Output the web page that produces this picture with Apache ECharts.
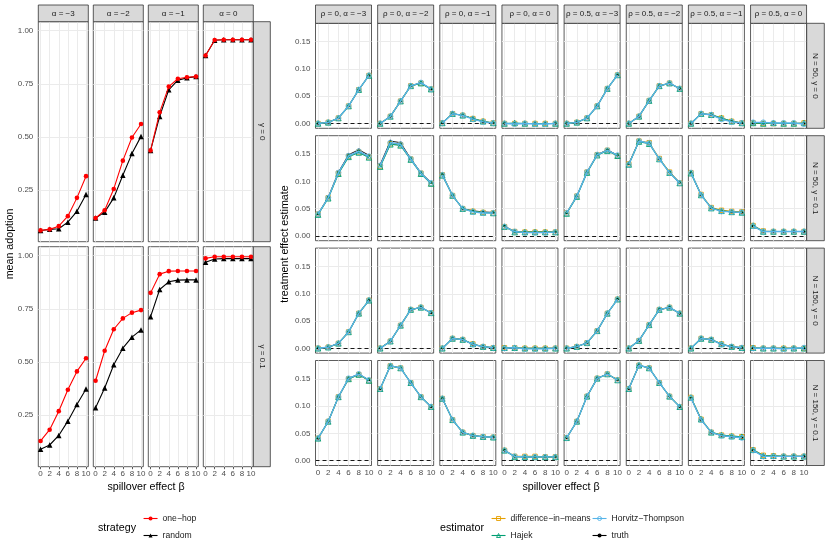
<!DOCTYPE html>
<html>
<head>
<meta charset="utf-8">
<script src="https://cdn.jsdelivr.net/npm/echarts@6/dist/echarts.min.js"></script>
<style>
html, body { margin: 0; padding: 0; background: #fff; }
#chart { width: 830px; height: 554px; }
</style>
</head>
<body>
<div id="chart"></div>
<script>
// x values shared by every panel
var betaValues = [0, 2, 4, 6, 8, 10];

// left block: mean adoption by strategy
var alphaLabels = ['α = −3', 'α = −2', 'α = −1', 'α = 0'];
var gammaLabels = ['γ = 0', 'γ = 0.1'];
var adoptionTicks = [0.25, 0.50, 0.75, 1.00];

var oneHopG0 = [
	[0.061, 0.066, 0.081, 0.128, 0.214, 0.316],
	[0.119, 0.156, 0.256, 0.389, 0.498, 0.561],
	[0.437, 0.616, 0.737, 0.774, 0.781, 0.784],
	[0.883, 0.956, 0.957, 0.957, 0.957, 0.957]
];
var randomG0 = [
	[0.061, 0.066, 0.069, 0.100, 0.151, 0.230],
	[0.119, 0.147, 0.214, 0.320, 0.422, 0.503],
	[0.437, 0.597, 0.722, 0.767, 0.778, 0.784],
	[0.883, 0.955, 0.957, 0.957, 0.957, 0.957]
];
var oneHopG01 = [
	[0.129, 0.182, 0.269, 0.370, 0.456, 0.518],
	[0.412, 0.553, 0.654, 0.705, 0.732, 0.744],
	[0.825, 0.913, 0.927, 0.928, 0.928, 0.928],
	[0.987, 0.995, 0.995, 0.995, 0.995, 0.995]
];
var randomG01 = [
	[0.090, 0.110, 0.155, 0.222, 0.300, 0.373],
	[0.285, 0.378, 0.487, 0.565, 0.617, 0.651],
	[0.713, 0.841, 0.877, 0.885, 0.886, 0.886],
	[0.969, 0.984, 0.986, 0.986, 0.986, 0.986]
];

// right block: treatment effect estimates
var designLabels = ['ρ = 0, α = −3', 'ρ = 0, α = −2', 'ρ = 0, α = −1', 'ρ = 0, α = 0',
	'ρ = 0.5, α = −3', 'ρ = 0.5, α = −2', 'ρ = 0.5, α = −1', 'ρ = 0.5, α = 0'];
var scenarioLabels = ['N = 50, γ = 0', 'N = 50, γ = 0.1', 'N = 150, γ = 0', 'N = 150, γ = 0.1'];
var effectTicks = [0.00, 0.05, 0.10, 0.15];

var truthN50G0 = [
	[0.000, 0.002, 0.010, 0.032, 0.062, 0.088],
	[0.000, 0.013, 0.041, 0.069, 0.075, 0.063],
	[0.001, 0.018, 0.015, 0.009, 0.003, 0.001],
	[0.000, 0.000, 0.000, 0.000, 0.000, 0.000],
	[0.000, 0.002, 0.010, 0.032, 0.064, 0.089],
	[0.000, 0.013, 0.042, 0.069, 0.074, 0.064],
	[0.000, 0.018, 0.016, 0.009, 0.004, 0.001],
	[0.000, 0.000, 0.000, 0.000, 0.000, 0.000]
];
var dimN50G0 = [
	[0.000, 0.002, 0.010, 0.032, 0.062, 0.088],
	[0.000, 0.013, 0.041, 0.069, 0.074, 0.063],
	[0.001, 0.018, 0.015, 0.009, 0.004, 0.001],
	[0.000, 0.000, 0.000, 0.000, 0.000, 0.000],
	[0.000, 0.002, 0.010, 0.032, 0.064, 0.089],
	[0.000, 0.013, 0.042, 0.069, 0.074, 0.064],
	[0.000, 0.018, 0.016, 0.010, 0.004, 0.001],
	[0.001, 0.000, 0.000, 0.000, 0.000, 0.001]
];
var hajekN50G0 = [
	[0.000, 0.002, 0.010, 0.032, 0.062, 0.088],
	[0.000, 0.013, 0.041, 0.069, 0.074, 0.063],
	[0.001, 0.018, 0.015, 0.009, 0.004, 0.001],
	[0.000, 0.001, 0.000, 0.000, 0.000, 0.000],
	[0.000, 0.002, 0.010, 0.032, 0.064, 0.089],
	[0.000, 0.013, 0.042, 0.069, 0.074, 0.064],
	[0.000, 0.018, 0.016, 0.010, 0.004, 0.001],
	[0.001, 0.000, 0.001, 0.000, 0.000, 0.001]
];
var htN50G0 = [
	[0.000, 0.002, 0.010, 0.032, 0.062, 0.088],
	[0.000, 0.013, 0.041, 0.069, 0.075, 0.063],
	[0.001, 0.018, 0.015, 0.008, 0.003, 0.001],
	[0.000, -0.001, 0.000, -0.001, -0.001, 0.000],
	[0.000, 0.002, 0.010, 0.032, 0.064, 0.089],
	[0.000, 0.013, 0.042, 0.069, 0.074, 0.064],
	[0.000, 0.018, 0.016, 0.008, 0.003, 0.001],
	[0.002, 0.002, 0.001, 0.001, 0.001, -0.001]
];

var truthN50G01 = [
	[0.040, 0.071, 0.117, 0.149, 0.158, 0.148],
	[0.131, 0.174, 0.171, 0.142, 0.116, 0.098],
	[0.113, 0.074, 0.050, 0.046, 0.044, 0.043],
	[0.018, 0.008, 0.007, 0.007, 0.007, 0.007],
	[0.042, 0.073, 0.117, 0.149, 0.158, 0.148],
	[0.132, 0.174, 0.170, 0.141, 0.117, 0.098],
	[0.116, 0.075, 0.051, 0.046, 0.044, 0.043],
	[0.018, 0.008, 0.008, 0.008, 0.008, 0.008]
];
var dimN50G01 = [
	[0.040, 0.070, 0.115, 0.146, 0.154, 0.145],
	[0.128, 0.169, 0.167, 0.141, 0.115, 0.096],
	[0.112, 0.074, 0.050, 0.045, 0.043, 0.042],
	[0.017, 0.008, 0.007, 0.007, 0.007, 0.007],
	[0.042, 0.073, 0.117, 0.149, 0.157, 0.147],
	[0.132, 0.174, 0.171, 0.142, 0.117, 0.097],
	[0.116, 0.076, 0.052, 0.047, 0.045, 0.044],
	[0.019, 0.009, 0.008, 0.008, 0.008, 0.008]
];
var hajekN50G01 = [
	[0.039, 0.069, 0.114, 0.145, 0.153, 0.144],
	[0.127, 0.168, 0.166, 0.140, 0.114, 0.096],
	[0.111, 0.074, 0.050, 0.045, 0.043, 0.042],
	[0.017, 0.007, 0.007, 0.007, 0.007, 0.007],
	[0.041, 0.072, 0.116, 0.148, 0.156, 0.147],
	[0.131, 0.173, 0.169, 0.141, 0.116, 0.097],
	[0.115, 0.075, 0.051, 0.046, 0.044, 0.043],
	[0.019, 0.008, 0.008, 0.008, 0.008, 0.008]
];
var htN50G01 = [
	[0.040, 0.070, 0.116, 0.147, 0.155, 0.146],
	[0.129, 0.171, 0.168, 0.141, 0.115, 0.097],
	[0.112, 0.074, 0.050, 0.044, 0.042, 0.042],
	[0.017, 0.008, 0.006, 0.006, 0.006, 0.007],
	[0.042, 0.073, 0.117, 0.149, 0.157, 0.148],
	[0.131, 0.174, 0.170, 0.141, 0.116, 0.097],
	[0.116, 0.075, 0.051, 0.045, 0.044, 0.043],
	[0.018, 0.008, 0.008, 0.008, 0.008, 0.008]
];

var truthN150G0 = [
	[0.000, 0.002, 0.009, 0.030, 0.064, 0.088],
	[0.000, 0.013, 0.042, 0.071, 0.075, 0.065],
	[0.000, 0.018, 0.016, 0.007, 0.003, 0.001],
	[0.000, 0.000, 0.000, 0.000, 0.000, 0.000],
	[0.000, 0.003, 0.010, 0.032, 0.064, 0.090],
	[0.000, 0.014, 0.043, 0.071, 0.075, 0.064],
	[0.000, 0.018, 0.016, 0.007, 0.003, 0.001],
	[0.000, 0.000, 0.000, 0.000, 0.000, 0.000]
];
var dimN150G0 = [
	[0.000, 0.002, 0.009, 0.030, 0.064, 0.088],
	[0.000, 0.013, 0.042, 0.071, 0.075, 0.065],
	[0.000, 0.018, 0.016, 0.008, 0.003, 0.001],
	[0.001, 0.001, 0.000, 0.000, 0.000, 0.000],
	[0.000, 0.003, 0.010, 0.032, 0.064, 0.090],
	[0.000, 0.014, 0.043, 0.071, 0.075, 0.064],
	[0.000, 0.018, 0.016, 0.008, 0.003, 0.001],
	[0.001, 0.000, 0.000, 0.000, 0.000, 0.000]
];
var hajekN150G0 = [
	[0.000, 0.002, 0.009, 0.030, 0.064, 0.088],
	[0.000, 0.013, 0.042, 0.071, 0.075, 0.065],
	[0.000, 0.018, 0.016, 0.008, 0.003, 0.001],
	[0.001, 0.001, 0.000, 0.000, 0.000, 0.000],
	[0.000, 0.003, 0.010, 0.032, 0.064, 0.090],
	[0.000, 0.014, 0.043, 0.071, 0.075, 0.064],
	[0.000, 0.018, 0.016, 0.008, 0.003, 0.001],
	[0.001, 0.000, 0.000, 0.000, 0.000, 0.000]
];
var htN150G0 = [
	[0.000, 0.002, 0.009, 0.030, 0.064, 0.088],
	[0.000, 0.013, 0.042, 0.071, 0.075, 0.065],
	[0.000, 0.018, 0.016, 0.007, 0.003, 0.001],
	[0.000, 0.001, -0.001, -0.001, -0.001, 0.000],
	[0.000, 0.003, 0.010, 0.032, 0.064, 0.090],
	[0.000, 0.014, 0.043, 0.071, 0.075, 0.064],
	[0.000, 0.018, 0.016, 0.007, 0.003, 0.001],
	[0.000, 0.000, 0.000, -0.001, 0.000, 0.001]
];

var truthN150G01 = [
	[0.041, 0.072, 0.117, 0.151, 0.159, 0.148],
	[0.132, 0.174, 0.170, 0.143, 0.117, 0.099],
	[0.114, 0.075, 0.052, 0.046, 0.044, 0.043],
	[0.019, 0.008, 0.007, 0.007, 0.007, 0.007],
	[0.042, 0.072, 0.118, 0.151, 0.159, 0.148],
	[0.132, 0.175, 0.170, 0.143, 0.118, 0.099],
	[0.115, 0.075, 0.052, 0.046, 0.044, 0.042],
	[0.019, 0.009, 0.008, 0.008, 0.008, 0.008]
];
var dimN150G01 = [
	[0.041, 0.072, 0.117, 0.150, 0.158, 0.147],
	[0.132, 0.174, 0.170, 0.143, 0.117, 0.099],
	[0.114, 0.075, 0.052, 0.046, 0.044, 0.043],
	[0.019, 0.008, 0.008, 0.008, 0.007, 0.007],
	[0.042, 0.072, 0.118, 0.151, 0.159, 0.148],
	[0.132, 0.175, 0.170, 0.143, 0.118, 0.099],
	[0.116, 0.076, 0.052, 0.047, 0.045, 0.044],
	[0.020, 0.010, 0.009, 0.008, 0.008, 0.008]
];
var hajekN150G01 = [
	[0.041, 0.072, 0.117, 0.150, 0.158, 0.147],
	[0.132, 0.174, 0.170, 0.143, 0.117, 0.099],
	[0.114, 0.075, 0.052, 0.046, 0.044, 0.043],
	[0.019, 0.007, 0.007, 0.007, 0.007, 0.007],
	[0.042, 0.072, 0.118, 0.151, 0.159, 0.148],
	[0.132, 0.175, 0.170, 0.143, 0.118, 0.099],
	[0.116, 0.076, 0.052, 0.047, 0.045, 0.044],
	[0.020, 0.009, 0.009, 0.008, 0.008, 0.008]
];
var htN150G01 = [
	[0.041, 0.072, 0.117, 0.151, 0.159, 0.148],
	[0.132, 0.174, 0.170, 0.143, 0.117, 0.099],
	[0.114, 0.075, 0.052, 0.046, 0.044, 0.043],
	[0.019, 0.008, 0.007, 0.007, 0.007, 0.007],
	[0.042, 0.072, 0.118, 0.151, 0.159, 0.148],
	[0.132, 0.175, 0.170, 0.143, 0.118, 0.099],
	[0.115, 0.075, 0.052, 0.046, 0.044, 0.042],
	[0.019, 0.008, 0.008, 0.008, 0.008, 0.008]
];

var strategyRows = [
	{ oneHop: oneHopG0, random: randomG0 },
	{ oneHop: oneHopG01, random: randomG01 }
];
var estimateRows = [
	{ truth: truthN50G0, dim: dimN50G0, hajek: hajekN50G0, ht: htN50G0 },
	{ truth: truthN50G01, dim: dimN50G01, hajek: hajekN50G01, ht: htN50G01 },
	{ truth: truthN150G0, dim: dimN150G0, hajek: hajekN150G0, ht: htN150G0 },
	{ truth: truthN150G01, dim: dimN150G01, hajek: hajekN150G01, ht: htN150G01 }
];

var FONT = 'Liberation Sans';
var chart = echarts.init(document.getElementById('chart'));
var grids = [], xAxes = [], yAxes = [], series = [], graphics = [];

// one facet panel: grid + axes + grid lines (via markLine)
function addPanel(left, top, width, height, yRange, yTicks, showX, showY, zeroLine) {
	var idx = grids.length;
	grids.push({
		left: left, top: top, width: width, height: height,
		show: true, backgroundColor: '#fff', borderColor: '#333', borderWidth: 0.8,
		outerBoundsMode: 'none', containLabel: false
	});
	xAxes.push({
		gridIndex: idx, type: 'value', min: -0.5, max: 10.5,
		axisLine: { show: false }, splitLine: { show: false },
		axisTick: { show: showX, customValues: betaValues, length: 2.5, lineStyle: { color: '#333', width: 0.8 } },
		axisLabel: { show: showX, customValues: betaValues, margin: 3.5, fontSize: 8, color: '#4D4D4D', fontFamily: FONT }
	});
	yAxes.push({
		gridIndex: idx, type: 'value', min: yRange[0], max: yRange[1],
		axisLine: { show: false }, splitLine: { show: false },
		axisTick: { show: showY, customValues: yTicks, length: 2.5, lineStyle: { color: '#333', width: 0.8 } },
		axisLabel: {
			show: showY, customValues: yTicks, margin: 5, fontSize: 8, color: '#4D4D4D', fontFamily: FONT,
			formatter: function (v) { return v.toFixed(2); }
		}
	});
	var lines = [];
	yTicks.forEach(function (v) {
		lines.push({ yAxis: v, lineStyle: { color: '#EBEBEB', width: 1, type: 'solid' } });
	});
	betaValues.forEach(function (v) {
		lines.push({ xAxis: v, lineStyle: { color: '#EBEBEB', width: 1, type: 'solid' } });
	});
	if (zeroLine) {
		lines.push({ yAxis: 0, lineStyle: { color: '#000', width: 0.9, type: [4, 3] } });
	}
	series.push({
		type: 'line', xAxisIndex: idx, yAxisIndex: idx, data: [], silent: true,
		markLine: {
			silent: true, z: 1, animation: false, symbol: ['none', 'none'],
			label: { show: false }, emphasis: { disabled: true }, data: lines
		}
	});
	return idx;
}

function lineSeries(idx, name, vals, st) {
	return {
		type: 'line', name: name, xAxisIndex: idx, yAxisIndex: idx, z: st.z,
		data: betaValues.map(function (b, j) { return [b, vals[j]]; }),
		symbol: st.symbol, symbolSize: st.size, showSymbol: true, clip: false,
		lineStyle: { color: st.color, width: st.width },
		itemStyle: st.hollow
			? { color: 'rgba(0,0,0,0)', borderColor: st.color, borderWidth: 0.9 }
			: { color: st.color },
		emphasis: { disabled: true }, silent: true, animation: false
	};
}

function strip(x, y, w, h, text, vertical) {
	graphics.push({
		type: 'rect', shape: { x: x, y: y, width: w, height: h }, z: 10,
		style: { fill: '#D9D9D9', stroke: '#333', lineWidth: 0.8 }
	});
	graphics.push({
		type: 'text', x: x + w / 2, y: y + h / 2, rotation: vertical ? -Math.PI / 2 : 0, z: 11,
		style: { text: text, fill: '#1A1A1A', fontSize: 8, fontFamily: FONT, align: 'center', verticalAlign: 'middle' }
	});
}

function label(x, y, text, size, rot, align) {
	graphics.push({
		type: 'text', x: x, y: y, rotation: rot || 0, z: 11,
		style: { text: text, fill: '#000', fontSize: size, fontFamily: FONT, align: align || 'center', verticalAlign: 'middle' }
	});
}

// ---- left block ----
var L = { x0: 38.3, pitch: 55, w: 50, tops: [21.7, 246.7], h: 220, stripTop: 5, stripH: 16.7, stripX: 253.3, stripW: 17 };
var strategyStyle = {
	random: { name: 'random', color: '#000000', symbol: 'triangle', size: 5.5, width: 1.1, z: 2 },
	oneHop: { name: 'one−hop', color: '#FF0000', symbol: 'circle', size: 4.6, width: 1.1, z: 3 }
};
alphaLabels.forEach(function (lab, c) {
	strip(L.x0 + c * L.pitch, L.stripTop, L.w, L.stripH, lab, false);
});
gammaLabels.forEach(function (lab, r) {
	strip(L.stripX, L.tops[r], L.stripW, L.h, lab, true);
	alphaLabels.forEach(function (a, c) {
		var idx = addPanel(L.x0 + c * L.pitch, L.tops[r], L.w, L.h, [0.008, 1.042], adoptionTicks, r === 1, c === 0, false);
		['random', 'oneHop'].forEach(function (k) {
			series.push(lineSeries(idx, strategyStyle[k].name, strategyRows[r][k][c], strategyStyle[k]));
		});
	});
});

// ---- right block ----
var R = { x0: 315.5, pitch: 62.15, w: 56, top0: 23.3, rowPitch: 112.4, h: 105, stripTop: 5, stripH: 18.3, stripX: 806.7, stripW: 17.6 };
var estimatorStyle = [
	{ key: 'truth', name: 'truth', color: '#000000', symbol: 'circle', size: 2.6, hollow: false, width: 0.9, z: 2 },
	{ key: 'dim', name: 'difference−in−means', color: '#E69F00', symbol: 'rect', size: 4.4, hollow: true, width: 1.1, z: 3 },
	{ key: 'hajek', name: 'Hajek', color: '#009E73', symbol: 'triangle', size: 5.5, hollow: true, width: 1.1, z: 4 },
	{ key: 'ht', name: 'Horvitz−Thompson', color: '#56B4E9', symbol: 'circle', size: 5, hollow: true, width: 1.4, z: 5 }
];
designLabels.forEach(function (lab, c) {
	strip(R.x0 + c * R.pitch, R.stripTop, R.w, R.stripH, lab, false);
});
scenarioLabels.forEach(function (lab, r) {
	var top = R.top0 + r * R.rowPitch;
	strip(R.stripX, top, R.stripW, R.h, lab, true);
	designLabels.forEach(function (d, c) {
		var idx = addPanel(R.x0 + c * R.pitch, top, R.w, R.h, [-0.0088, 0.1838], effectTicks, r === 3, c === 0, true);
		estimatorStyle.forEach(function (st) {
			series.push(lineSeries(idx, st.name, estimateRows[r][st.key][c], st));
		});
	});
});

// axis titles
label(10, 244, 'mean adoption', 10.7, Math.PI / 2);
label(285, 244, 'treatment effect estimate', 10.7, Math.PI / 2);
label(146, 487, 'spillover effect β', 10.7);
label(561, 487, 'spillover effect β', 10.7);
// legend titles
label(98, 528, 'strategy', 10.7, 0, 'left');
label(440, 528, 'estimator', 10.7, 0, 'left');

function legendAt(name, left, cy, color, hollow) {
	return {
		data: [name], left: left, top: cy - 5, padding: 0, itemGap: 0,
		itemWidth: 14, itemHeight: 5, selectedMode: false,
		itemStyle: hollow
			? { color: 'rgba(0,0,0,0)', borderColor: color, borderWidth: 0.9 }
			: { color: color, borderWidth: 0 },
		lineStyle: { color: color, width: 1.1 },
		textStyle: { fontSize: 8.6, color: '#1A1A1A', fontFamily: FONT }
	};
}

chart.setOption({
	animation: false,
	grid: grids,
	xAxis: xAxes,
	yAxis: yAxes,
	series: series,
	legend: [
		legendAt('one−hop', 143, 519, '#FF0000', false),
		legendAt('random', 143, 536, '#000000', false),
		legendAt('difference−in−means', 491, 519, '#E69F00', true),
		legendAt('Hajek', 491, 536, '#009E73', true),
		legendAt('Horvitz−Thompson', 592, 519, '#56B4E9', true),
		legendAt('truth', 592, 536, '#000000', false)
	],
	graphic: graphics
});
</script>
</body>
</html>
